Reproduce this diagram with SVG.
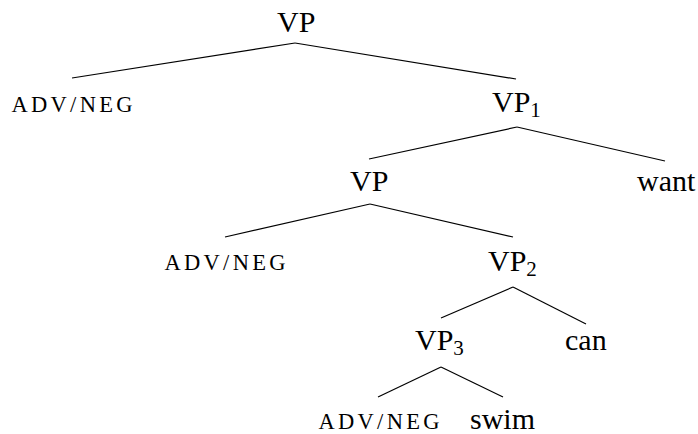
<svg xmlns="http://www.w3.org/2000/svg" width="698" height="434" viewBox="0 0 698 434">
<style>
  text { font-family: 'Liberation Serif', 'Times New Roman', serif; fill: #000; }
  .t { font-size: 30px; }
  .sc { font-size: 22.5px; text-anchor: middle; }
  .sub { font-size: 21px; }
  .e { stroke: #000; stroke-width: 1.2; fill: none; }
</style>
<rect width="698" height="434" fill="#fff"/>
<g id="connectors">
  <line class="e" x1="295" y1="43" x2="72" y2="78"/>
  <line class="e" x1="295" y1="43" x2="516" y2="79"/>
  <line class="e" x1="517" y1="127" x2="369" y2="159"/>
  <line class="e" x1="517" y1="127" x2="665" y2="161"/>
  <line class="e" x1="370" y1="204" x2="225" y2="237"/>
  <line class="e" x1="370" y1="204" x2="513" y2="237"/>
  <line class="e" x1="513" y1="287" x2="441" y2="318"/>
  <line class="e" x1="513" y1="287" x2="586" y2="324"/>
  <line class="e" x1="441" y1="367" x2="378" y2="397"/>
  <line class="e" x1="441" y1="367" x2="503" y2="397"/>
</g>
<g id="vp-root"><text class="t" x="277" y="32">VP</text></g>
<g id="advneg-1"><text class="sc" x="72" y="112" textLength="121" lengthAdjust="spacing">ADV/NEG</text></g>
<g id="vp1"><text class="t" x="492" y="112">VP<tspan class="sub" dy="4.5">1</tspan></text></g>
<g id="vp-mid"><text class="t" x="350" y="191">VP</text></g>
<g id="want"><text class="t" x="637" y="191">want</text></g>
<g id="advneg-2"><text class="sc" x="225" y="270" textLength="121" lengthAdjust="spacing">ADV/NEG</text></g>
<g id="vp2"><text class="t" x="488" y="271">VP<tspan class="sub" dy="4.5">2</tspan></text></g>
<g id="vp3"><text class="t" x="415" y="350">VP<tspan class="sub" dy="4.5">3</tspan></text></g>
<g id="can"><text class="t" x="565" y="350">can</text></g>
<g id="advneg-3"><text class="sc" x="379" y="429" textLength="121" lengthAdjust="spacing">ADV/NEG</text></g>
<g id="swim"><text class="t" x="470" y="429">swim</text></g>
</svg>
